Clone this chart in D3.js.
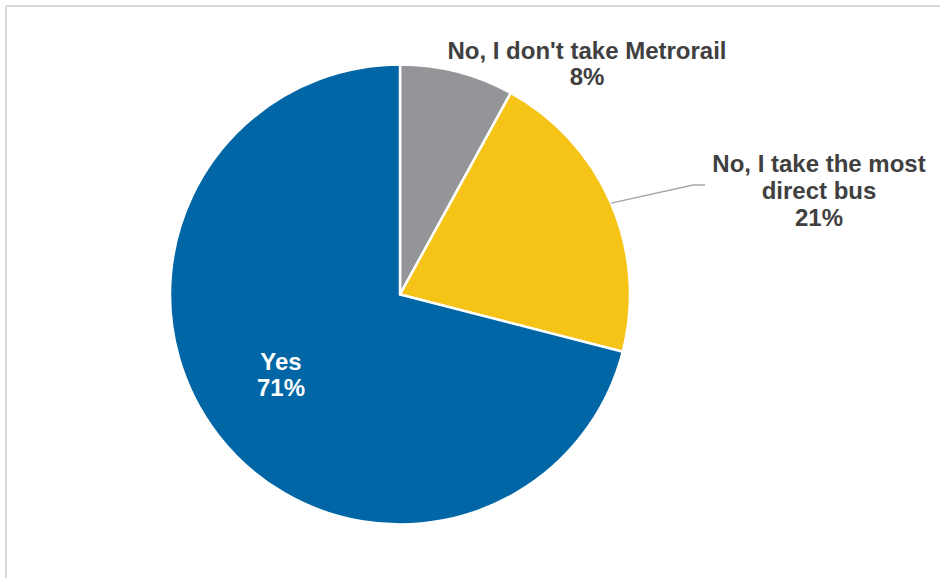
<!DOCTYPE html>
<html>
<head>
<meta charset="utf-8">
<script src="https://cdn.jsdelivr.net/npm/d3@7"></script>
<style>
  html, body { margin: 0; padding: 0; background: #fff; }
  svg { display: block; }
</style>
</head>
<body>
<svg id="chart" width="940" height="578"></svg>
<script>
// Survey answers, in order clockwise from 12 o'clock
const categories = ["No, I don't take Metrorail", "No, I take the most direct bus", "Yes"];
const values = [8, 21, 71];
const colors = ["#939598", "#F6C317", "#0066A6"];
// Label lines per slice (the last line is the value)
const labelLines = [
  ["No, I don't take Metrorail"],
  ["No, I take the most", "direct bus"],
  ["Yes"]
];

const W = 940, H = 578;
const cx = 400, cy = 294.5, radius = 230;

const svg = d3.select("#chart");

// Light frame along the top and left edges
svg.append("line").attr("x1", 6).attr("x2", W).attr("y1", 6).attr("y2", 6)
  .attr("stroke", "#d9d9d9").attr("stroke-width", 2);
svg.append("line").attr("x1", 6).attr("x2", 6).attr("y1", 6).attr("y2", H)
  .attr("stroke", "#d9d9d9").attr("stroke-width", 2);

const pie = d3.pie().sort(null).value(d => d)(values);
const arc = d3.arc().innerRadius(0).outerRadius(radius);

const g = svg.append("g").attr("transform", `translate(${cx},${cy})`);
g.selectAll("path.slice")
  .data(pie)
  .join("path")
  .attr("class", "slice")
  .attr("d", arc)
  .attr("fill", (d, i) => colors[i])
  .attr("stroke", "#fff")
  .attr("stroke-width", 2.5)
  .attr("stroke-linejoin", "miter");

// Leader line from the middle of the bus slice's rim to its label
const busArc = pie[1];
const mid = (busArc.startAngle + busArc.endAngle) / 2;
const px = Math.sin(mid) * radius, py = -Math.cos(mid) * radius;
svg.append("polyline")
  .attr("points", [[cx + px, cy + py], [693, 185], [705, 185]].map(p => p.join(",")).join(" "))
  .attr("fill", "none")
  .attr("stroke", "#a6a6a6")
  .attr("stroke-width", 1.3);

// Label positions (text centre x, first baseline y) and text colour
const labelPos = [
  { x: 587, y: 58.5, fill: "#404040" },
  { x: 819, y: 172, fill: "#404040" },
  { x: 281, y: 369.5, fill: "#ffffff" }
];
const lineH = 26.8;

labelLines.forEach((lines, i) => {
  const all = lines.concat([values[i] + "%"]);
  const t = svg.append("text")
    .attr("text-anchor", "middle")
    .attr("font-family", "'Liberation Sans', Arial, sans-serif")
    .attr("font-weight", "bold")
    .attr("font-size", 24)
    .attr("fill", labelPos[i].fill);
  all.forEach((s, k) => {
    t.append("tspan")
      .attr("x", labelPos[i].x)
      .attr("y", labelPos[i].y + k * lineH)
      .text(s);
  });
});
</script>
</body>
</html>
